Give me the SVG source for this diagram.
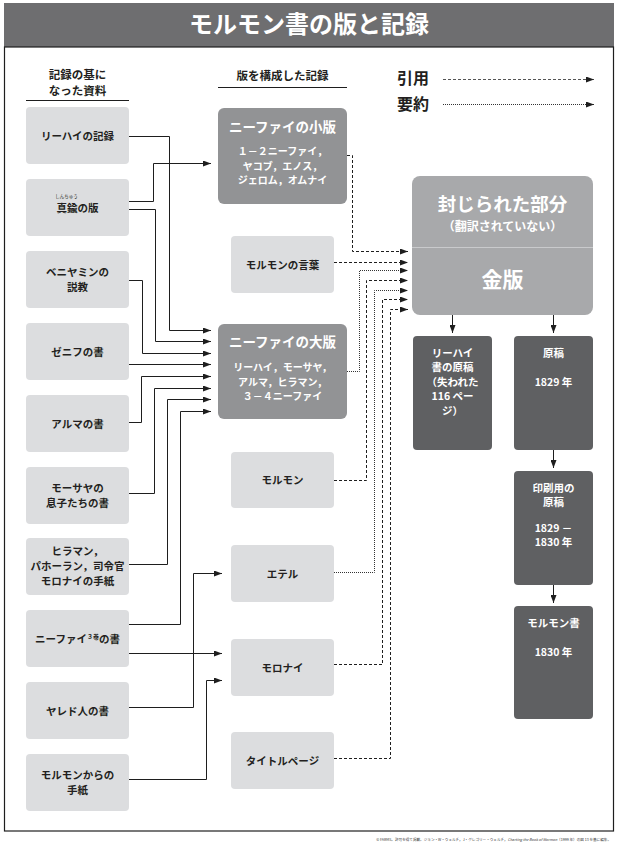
<svg xmlns="http://www.w3.org/2000/svg" width="618" height="846" viewBox="0 0 618 846">
<style>
text{font-family:"Noto Sans CJK JP","Noto Sans",sans-serif;font-weight:bold;text-anchor:middle}
.lt{fill:#dcdddf}
.md{fill:#929395}
.gp{fill:#a8a9ab}
.dk{fill:#5f6062}
.t11{font-size:10.5px;fill:#231f20}
.w{fill:#fff}
.wd{fill:#fff;font-size:10.5px}
.sub{fill:#fff;font-size:10px}
.hd{font-size:11.5px;fill:#231f20}
.sol{fill:none;stroke:#1e1e1e;stroke-width:1}
.dash{fill:none;stroke:#1e1e1e;stroke-width:1;stroke-dasharray:3 2}
.dot{fill:none;stroke:#333;stroke-width:1;stroke-dasharray:1 1}
</style>
<defs>
<marker id="ah" markerUnits="userSpaceOnUse" markerWidth="8" markerHeight="6" refX="8" refY="3" orient="auto">
<path d="M0,0 L8,3 L0,6 z" fill="#1e1e1e"/>
</marker>
</defs>
<rect x="4" y="3" width="610" height="44" fill="#6e6e70"/>
<text x="309" y="33" style="font-size:24px;fill:#fff">モルモン書の版と記録</text>
<rect x="4.5" y="47" width="609" height="784" fill="none" stroke="#1e1e1e" stroke-width="1.2"/>
<g id="headers">
<text class="hd" x="77.5" y="79">記録の基に</text>
<text class="hd" x="77.5" y="95">なった資料</text>
<line x1="26" y1="100.5" x2="129" y2="100.5" stroke="#1e1e1e"/>
<text class="hd" x="282.5" y="80">版を構成した記録</text>
<line x1="218" y1="87.5" x2="347" y2="87.5" stroke="#1e1e1e"/>
</g>
<g id="legend">
<text x="397" y="84" style="font-size:16px;fill:#231f20;text-anchor:start">引用</text>
<text x="397" y="110" style="font-size:16px;fill:#231f20;text-anchor:start">要約</text>
<path class="dash" d="M443,79.5 H594" marker-end="url(#ah)" style="stroke:#555"/>
<path class="dot" d="M443,104.5 H594" marker-end="url(#ah)"/>
</g>
<g id="src-lehi"><rect class="lt" x="26" y="107" width="103" height="57" rx="4"/><text class="t11" x="77.5" y="139.5">リーハイの記録</text></g>
<g id="src-brass"><rect class="lt" x="26" y="179" width="103" height="57" rx="4"/><text x="66.5" y="198" style="font-size:4.5px;fill:#231f20;font-weight:normal">しんちゅう</text><text class="t11" x="77.5" y="212">真鍮の版</text></g>
<g id="src-benjamin"><rect class="lt" x="26" y="251" width="103" height="57" rx="4"/><text class="t11" x="77.5" y="275.5">ベニヤミンの</text><text class="t11" x="77.5" y="290.5">説教</text></g>
<g id="src-zeniff"><rect class="lt" x="26" y="323" width="103" height="57" rx="4"/><text class="t11" x="77.5" y="355.5">ゼニフの書</text></g>
<g id="src-alma"><rect class="lt" x="26" y="395" width="103" height="57" rx="4"/><text class="t11" x="77.5" y="427.5">アルマの書</text></g>
<g id="src-mosiah"><rect class="lt" x="26" y="467" width="103" height="57" rx="4"/><text class="t11" x="77.5" y="491.5">モーサヤの</text><text class="t11" x="77.5" y="506.5">息子たちの書</text></g>
<g id="src-helaman"><rect class="lt" x="26" y="538" width="103" height="57" rx="4"/><text class="t11" x="77.5" y="555">ヒラマン，</text><text class="t11" x="77.5" y="570">パホーラン，司令官</text><text class="t11" x="77.5" y="585">モロナイの手紙</text></g>
<g id="src-3nephi"><rect class="lt" x="26" y="610" width="103" height="57" rx="4"/><text class="t11" x="77.5" y="642.5">ニーファイ<tspan style="font-size:6px" dy="-4">３巻</tspan><tspan dy="4">の書</tspan></text></g>
<g id="src-jared"><rect class="lt" x="26" y="682" width="103" height="57" rx="4"/><text class="t11" x="77.5" y="714.5">ヤレド人の書</text></g>
<g id="src-mormon-letter"><rect class="lt" x="26" y="754" width="103" height="57" rx="4"/><text class="t11" x="77.5" y="778.5">モルモンからの</text><text class="t11" x="77.5" y="793.5">手紙</text></g>
<g id="small-plates"><rect class="md" x="218" y="108" width="129" height="96" rx="6"/><text class="w" x="282.5" y="132" style="font-size:13.5px">ニーファイの小版</text><text class="sub" x="282.5" y="155">１－２ニーファイ，</text><text class="sub" x="282.5" y="169.5">ヤコブ，エノス，</text><text class="sub" x="282.5" y="184">ジェロム，オムナイ</text></g>
<g id="words-of-mormon"><rect class="lt" x="231" y="236" width="103" height="57" rx="4"/><text class="t11" x="282.5" y="268.5">モルモンの言葉</text></g>
<g id="large-plates"><rect class="md" x="218" y="324" width="129" height="95" rx="6"/><text class="w" x="282.5" y="347" style="font-size:13.5px">ニーファイの大版</text><text class="sub" x="282.5" y="371">リーハイ，モーサヤ，</text><text class="sub" x="282.5" y="385.5">アルマ，ヒラマン，</text><text class="sub" x="282.5" y="400">３－４ニーファイ</text></g>
<g id="mormon"><rect class="lt" x="231" y="452" width="103" height="56" rx="4"/><text class="t11" x="282.5" y="484">モルモン</text></g>
<g id="ether"><rect class="lt" x="231" y="545" width="103" height="57" rx="4"/><text class="t11" x="282.5" y="577.5">エテル</text></g>
<g id="moroni"><rect class="lt" x="231" y="639" width="103" height="57" rx="4"/><text class="t11" x="282.5" y="671.5">モロナイ</text></g>
<g id="title-page"><rect class="lt" x="231" y="732" width="103" height="57" rx="4"/><text class="t11" x="282.5" y="764.5">タイトルページ</text></g>
<g id="gold-plates"><rect class="gp" x="412" y="176" width="181" height="139" rx="8"/><line x1="412" y1="247.5" x2="593" y2="247.5" stroke="#c9cacc" stroke-width="1"/><text class="w" x="502.5" y="211" style="font-size:18.5px">封じられた部分</text><text class="w" x="502.5" y="231" style="font-size:12px">（翻訳されていない）</text><text class="w" x="502.5" y="287" style="font-size:21px">金版</text></g>
<g id="lehi-manuscript"><rect class="dk" x="413" y="336" width="79" height="114" rx="4"/><text class="wd" x="452.5" y="356.5">リーハイ</text><text class="wd" x="452.5" y="371">書の原稿</text><text class="wd" x="452.5" y="385.5">（失われた</text><text class="wd" x="452.5" y="400">116 ペー</text><text class="wd" x="452.5" y="414.5">ジ）</text></g>
<g id="original-manuscript"><rect class="dk" x="514" y="336" width="79" height="114" rx="4"/><text class="wd" x="553.5" y="357">原稿</text><text class="wd" x="553.5" y="386">1829 年</text></g>
<g id="printer-manuscript"><rect class="dk" x="514" y="471" width="79" height="114" rx="4"/><text class="wd" x="553.5" y="491.5">印刷用の</text><text class="wd" x="553.5" y="506">原稿</text><text class="wd" x="553.5" y="531.5">1829 －</text><text class="wd" x="553.5" y="546">1830 年</text></g>
<g id="book-of-mormon"><rect class="dk" x="514" y="606" width="79" height="113" rx="4"/><text class="wd" x="553.5" y="627">モルモン書</text><text class="wd" x="553.5" y="656">1830 年</text></g>
<g id="connectors">
<path class="sol" d="M129,136.5 H169.5 V330.5 H211" marker-end="url(#ah)"/>
<path class="sol" d="M129,201.5 H153.5 V163.5 H211" marker-end="url(#ah)"/>
<path class="sol" d="M129,209.5 H155.5 V341.5 H211" marker-end="url(#ah)"/>
<path class="sol" d="M129,280.5 H142.5 V353.5 H211" marker-end="url(#ah)"/>
<path class="sol" d="M129,364.5 H211" marker-end="url(#ah)"/>
<path class="sol" d="M129,422.5 H141.5 V376.5 H211" marker-end="url(#ah)"/>
<path class="sol" d="M129,493.5 H154.5 V388.5 H211" marker-end="url(#ah)"/>
<path class="sol" d="M129,564.5 H167.5 V399.5 H211" marker-end="url(#ah)"/>
<path class="sol" d="M129,624.5 H180.5 V411.5 H211" marker-end="url(#ah)"/>
<path class="sol" d="M129,653.5 H222" marker-end="url(#ah)"/>
<path class="sol" d="M129,707.5 H193.5 V573.5 H222" marker-end="url(#ah)"/>
<path class="sol" d="M129,779.5 H206.5 V680.5 H222" marker-end="url(#ah)"/>
<path class="dash" d="M347,155.5 H352.5 V251.5 H408" marker-end="url(#ah)"/>
<path class="dash" d="M334,262.5 H408" marker-end="url(#ah)"/>
<path class="dot" d="M347,371.5 H359.5 V270.5 H408" marker-end="url(#ah)"/>
<path class="dash" d="M334,480.5 H366.5 V280.5 H408" marker-end="url(#ah)"/>
<path class="dot" d="M334,572.5 H374.5 V290.5 H408" marker-end="url(#ah)"/>
<path class="dash" d="M334,664.5 H382.5 V299.5 H408" marker-end="url(#ah)"/>
<path class="dash" d="M334,758.5 H390.5 V309.5 H408" marker-end="url(#ah)"/>
<path class="sol" d="M452.5,315 V333" marker-end="url(#ah)"/>
<path class="sol" d="M553.5,315 V333" marker-end="url(#ah)"/>
<path class="sol" d="M553.5,450 V468" marker-end="url(#ah)"/>
<path class="sol" d="M553.5,585 V603" marker-end="url(#ah)"/>
</g>
<text x="611" y="841" style="font-size:3.6px;fill:#333;font-weight:normal;text-anchor:end">© FARMS。許可を得て掲載。ジョン・W・ウェルチ，J・グレゴリー・ウェルチ，<tspan font-style="italic">Charting the Book of Mormon</tspan>（1999 年）の図 13 を基に編集。</text>
</svg>
